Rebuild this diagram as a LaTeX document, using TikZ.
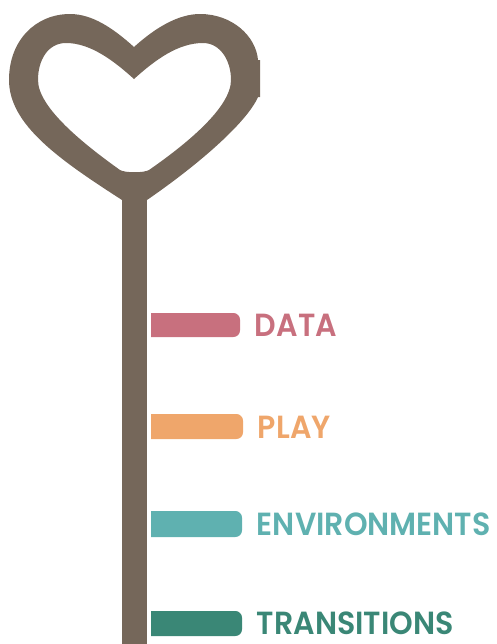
\documentclass[tikz,border=0pt]{standalone}
\usepackage{fontspec}
\setmainfont[FakeStretch=0.94,BoldFont={Poppins SemiBold}]{Poppins}
\usepackage{tikz}
\usetikzlibrary{positioning}
\definecolor{stemc}{HTML}{75675A}
\definecolor{datac}{HTML}{C8707E}
\definecolor{playc}{HTML}{EFA66B}
\definecolor{envc}{HTML}{5FB1B0}
\definecolor{transc}{HTML}{3A8776}
\tikzset{node distance=11pt, auto,
  lab/.style={inner sep=0pt, anchor=west, font=\fontsize{24}{24}\selectfont\bfseries}}

\begin{document}
\begin{tikzpicture}[x=0.75pt,y=-0.75pt]

           \useasboundingbox (0,0) rectangle (497,644);

           % heart and stem
           \fill[stemc,even odd rule]
             (134,47) .. controls (155,28) and (178,14) .. (200,14)
             .. controls (232,14) and (256,36) .. (258,60) -- (260,60) -- (260,97) -- (258,97)
             .. controls (248,120) and (205,160) .. (147,200)
             -- (122,200)
             .. controls (60,160) and (9,125) .. (9,80)
             .. controls (9,40) and (36,14) .. (70,14)
             .. controls (92,14) and (113,28) .. (134,47) -- cycle
             (134,79) .. controls (155,60) and (178,43) .. (203,43)
             .. controls (220,43) and (231,60) .. (231,80)
             .. controls (231,108) and (185,145) .. (149,170)
             .. controls (144,173) and (125,173) .. (120,170)
             .. controls (85,145) and (38,108) .. (38,80)
             .. controls (38,60) and (48,43) .. (66,43)
             .. controls (90,43) and (113,60) .. (134,79) -- cycle;
           \fill[stemc] (122,198) rectangle (147,644);

           % bars
           \fill[datac] (151,313) [rounded corners=5pt] -- (240,313) -- (240,337) [sharp corners] -- (151,337) -- cycle;
           \fill[playc] (151,414) [rounded corners=5pt] -- (243,414) -- (243,439) [sharp corners] -- (151,439) -- cycle;
           \fill[envc] (151,511) [rounded corners=5pt] -- (242,511) -- (242,537) [sharp corners] -- (151,537) -- cycle;
           \fill[transc] (151,611) [rounded corners=5pt] -- (242,611) -- (242,636) [sharp corners] -- (151,636) -- cycle;

           \coordinate (D) at (240,325);
           \coordinate (P) at (243,427);
           \coordinate (E) at (242,524);
           \coordinate (T) at (242,623);

           \node (DATA) [lab, text=datac, right=of D] {DATA};
           \node (PLAY) [lab, text=playc, right=of P] {PLAY};
           \node (ENV) [lab, text=envc, right=of E] {ENVIRONMENTS};
           \node (TRANS) [lab, text=transc, right=of T] {TRANSITIONS};

         \end{tikzpicture}
\end{document}
